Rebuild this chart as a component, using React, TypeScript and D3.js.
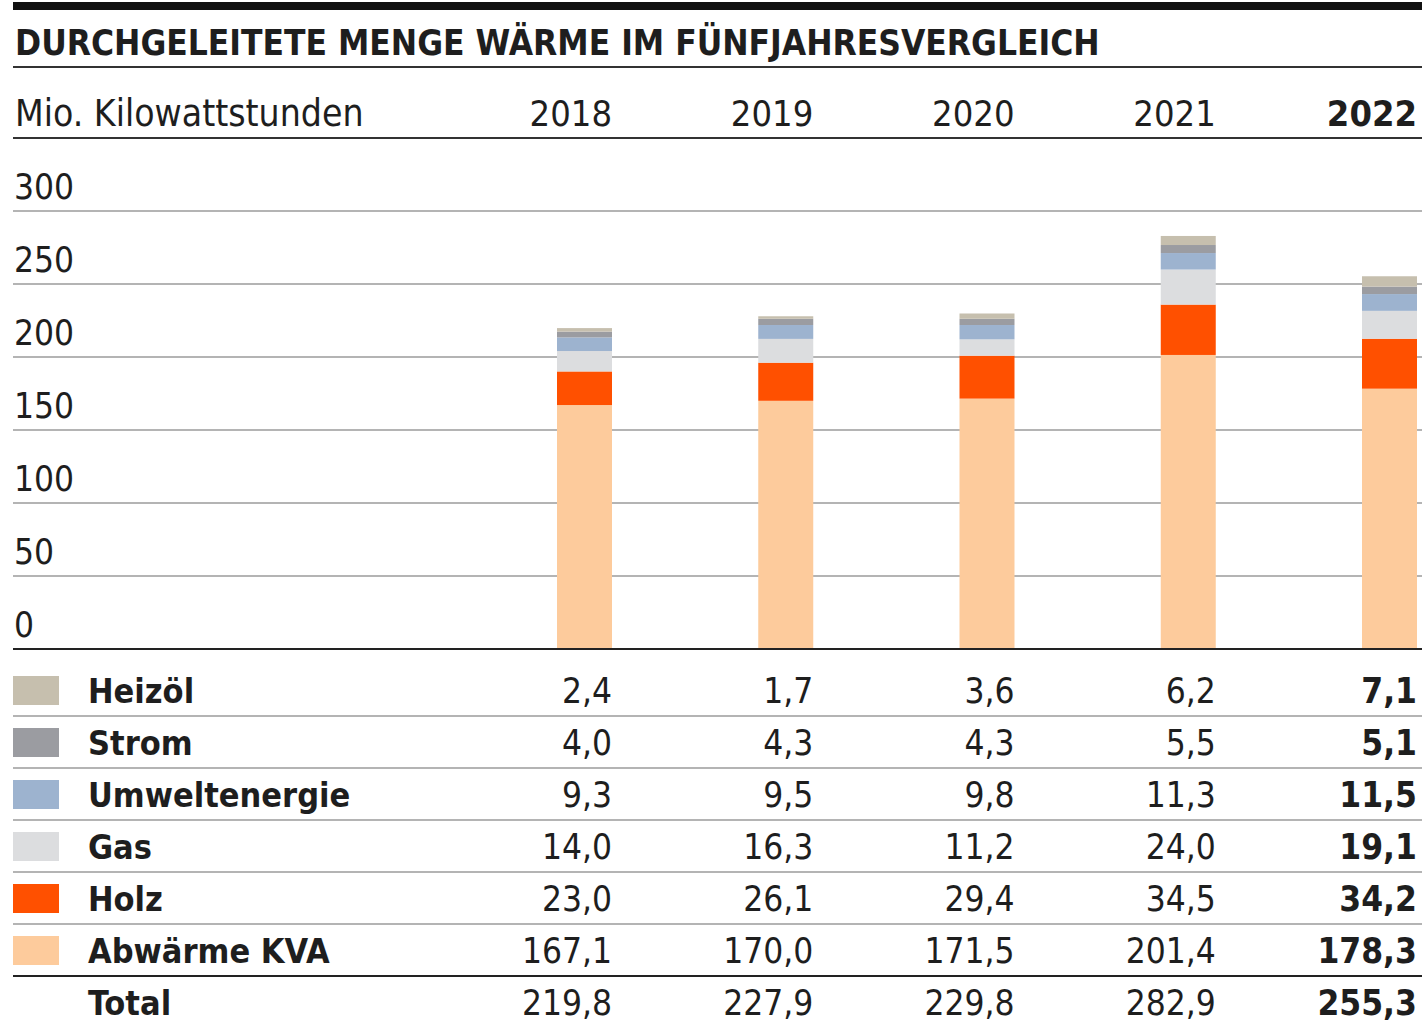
import React from "react";
import * as d3 from "d3";

const title = "DURCHGELEITETE MENGE WÄRME IM FÜNFJAHRESVERGLEICH";
const unitLabel = "Mio. Kilowattstunden";
const years = ["2018", "2019", "2020", "2021", "2022"];
const yTicks = [0, 50, 100, 150, 200, 250, 300];

// stacked bottom -> top
const seriesNames = ["Abwärme KVA", "Holz", "Gas", "Umweltenergie", "Strom", "Heizöl"];
const abwaerme = [167.1, 170.0, 171.5, 201.4, 178.3];
const holz = [23.0, 26.1, 29.4, 34.5, 34.2];
const gas = [14.0, 16.3, 11.2, 24.0, 19.1];
const umwelt = [9.3, 9.5, 9.8, 11.3, 11.5];
const strom = [4.0, 4.3, 4.3, 5.5, 5.1];
const heizoel = [2.4, 1.7, 3.6, 6.2, 7.1];
const totals = [219.8, 227.9, 229.8, 282.9, 255.3];
const seriesColors = ["#fdcb9c", "#ff5000", "#dcdddf", "#9db3cf", "#9b9ca1", "#c6bfae"];

const seriesValues = [abwaerme, holz, gas, umwelt, strom, heizoel];

const FONT = "'Liberation Sans Narrow', 'DejaVu Sans Condensed', Roboto, sans-serif";
const TEXT = "#1e1e1e";

export default function App() {
  const W = 1422;
  const H = 1023;
  const left = 13;
  const y = d3.scaleLinear().domain([0, 300]).range([649, 211]);
  const x = d3.scalePoint<string>().domain(years).range([584.5, 1389.5]);
  const barW = 55;

  const table = years.map((yr, i) => {
    const o: any = { year: yr };
    seriesNames.forEach((s, k) => (o[s] = seriesValues[k][i]));
    return o;
  });
  const stacked = d3.stack<any>().keys(seriesNames)(table);

  const fmt = (v: number) => d3.format(".1f")(v).replace(".", ",");

  // table rows top -> bottom
  const rowOrder = [5, 4, 3, 2, 1, 0];
  const rowH = 52;
  const firstBaseline = 703;
  const firstLine = 716;

  return (
    <svg
      width={W}
      height={H}
      style={{ position: "absolute", left: 0, top: 0, background: "#fff" }}
      fontFamily={FONT}
    >
      <rect x={left} y={2} width={W - left} height={8} fill="#111" />
      <text x={15} y={55} fontSize={35} fill={TEXT} fontWeight={700}>
        {title}
      </text>
      <line x1={left} x2={W} y1={67} y2={67} stroke="#333" strokeWidth={2} />
      <text x={15} y={126} fontSize={37} fill={TEXT}>
        {unitLabel}
      </text>
      {years.map((yr, i) => (
        <text
          key={yr}
          x={(x(yr) as number) + barW / 2}
          y={126}
          fontSize={36}
          textAnchor="end"
          fill={TEXT}
          fontWeight={i === years.length - 1 ? 700 : 400}
        >
          {yr}
        </text>
      ))}
      <line x1={left} x2={W} y1={138} y2={138} stroke="#333" strokeWidth={2} />

      {yTicks.map((t) => (
        <g key={t}>
          <line
            x1={left}
            x2={W}
            y1={y(t)}
            y2={y(t)}
            stroke={t === 0 ? "#222" : "#b4b4b4"}
            strokeWidth={2}
          />
          <text x={14} y={y(t) - 12} fontSize={35} fill={TEXT}>
            {t}
          </text>
        </g>
      ))}

      {stacked.map((layer, k) => (
        <g key={layer.key} fill={seriesColors[k]}>
          {layer.map((d, i) => (
            <rect
              key={i}
              x={(x(years[i]) as number) - barW / 2}
              y={y(d[1])}
              width={barW}
              height={y(d[0]) - y(d[1])}
            />
          ))}
        </g>
      ))}
      <line x1={left} x2={W} y1={y(0)} y2={y(0)} stroke="#222" strokeWidth={2} />

      {rowOrder.map((k, r) => {
        const base = firstBaseline + r * rowH;
        return (
          <g key={seriesNames[k]}>
            <rect x={13} y={base - 27} width={46} height={29} fill={seriesColors[k]} />
            <text x={88} y={base} fontSize={34} fontWeight={700} fill={TEXT}>
              {seriesNames[k]}
            </text>
            {years.map((yr, i) => (
              <text
                key={yr}
                x={(x(yr) as number) + barW / 2}
                y={base}
                fontSize={35}
                textAnchor="end"
                fill={TEXT}
                fontWeight={i === years.length - 1 ? 700 : 400}
              >
                {fmt(seriesValues[k][i])}
              </text>
            ))}
            <line
              x1={left}
              x2={W}
              y1={firstLine + r * rowH}
              y2={firstLine + r * rowH}
              stroke={r === rowOrder.length - 1 ? "#222" : "#b4b4b4"}
              strokeWidth={2}
            />
          </g>
        );
      })}
      <text x={88} y={firstBaseline + 6 * rowH} fontSize={34} fontWeight={700} fill={TEXT}>
        Total
      </text>
      {years.map((yr, i) => (
        <text
          key={yr}
          x={(x(yr) as number) + barW / 2}
          y={firstBaseline + 6 * rowH}
          fontSize={35}
          textAnchor="end"
          fill={TEXT}
          fontWeight={i === years.length - 1 ? 700 : 400}
        >
          {fmt(totals[i])}
        </text>
      ))}
    </svg>
  );
}
